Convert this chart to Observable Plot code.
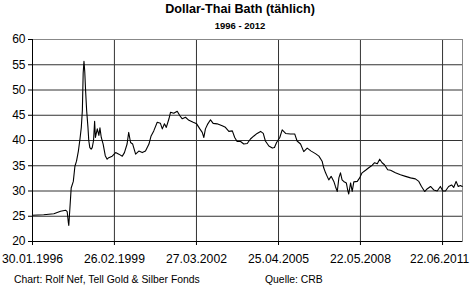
<!DOCTYPE html>
<html>
<head>
<meta charset="utf-8">
<script src="https://cdn.jsdelivr.net/npm/d3@7"></script>
<script src="https://cdn.jsdelivr.net/npm/@observablehq/plot@0.6"></script>
<style>
  html, body { margin: 0; padding: 0; background: #fff; }
  #wrap { width: 470px; height: 285px; overflow: hidden; font-family: "Liberation Sans", Arial, sans-serif; color: #000; }
  .title { font-size: 12.6px; font-weight: bold; text-align: center; height: 17px; line-height: 17px; padding-top: 1px; padding-left: 10px; }
  .subtitle { font-size: 9.5px; font-weight: bold; text-align: center; height: 12px; line-height: 12px; padding-top: 2px; padding-left: 10px; }
  .caption { position: relative; height: 12px; line-height: 12px; font-size: 10.4px; padding-top: 3px; }
  .caption span { position: absolute; top: 3px; }
  svg { display: block; overflow: visible; }
</style>
</head>
<body>
<div id="wrap">
  <div class="title">Dollar-Thai Bath (tählich)</div>
  <div class="subtitle">1996 - 2012</div>
  <div id="chart"></div>
  <div class="caption"><span style="left:14px">Chart: Rolf Nef, Tell Gold &amp; Silber Fonds</span><span style="left:265px">Quelle: CRB</span></div>
</div>
<script>
// Decimal-year positions of readings and USD/THB values
const years = [
  1996.08, 1996.50, 1996.88,
  1997.13, 1997.32, 1997.38, 1997.42, 1997.44, 1997.48, 1997.53, 1997.61, 1997.67, 1997.73, 1997.80, 1997.86, 1997.91, 1997.95, 1997.98,
  1998.01, 1998.04, 1998.07, 1998.11, 1998.16, 1998.19, 1998.23, 1998.28, 1998.32, 1998.37, 1998.41, 1998.44, 1998.51, 1998.57, 1998.61, 1998.66, 1998.73, 1998.81, 1998.88, 1998.94,
  1999.07, 1999.20, 1999.32, 1999.45, 1999.53, 1999.63, 1999.69, 1999.76, 1999.84, 1999.95,
  2000.07, 2000.20, 2000.32, 2000.45, 2000.53, 2000.63, 2000.76, 2000.88, 2000.95,
  2001.03, 2001.10, 2001.20, 2001.26, 2001.38, 2001.51, 2001.61, 2001.70, 2001.82, 2001.95,
  2002.11, 2002.24, 2002.36, 2002.45, 2002.51, 2002.57, 2002.66, 2002.76, 2002.86,
  2003.01, 2003.20, 2003.32, 2003.45, 2003.58, 2003.67, 2003.76, 2003.89,
  2004.01, 2004.14, 2004.26, 2004.39, 2004.51, 2004.64, 2004.74, 2004.82, 2004.95,
  2005.08, 2005.16, 2005.24, 2005.36, 2005.45, 2005.58, 2005.76, 2005.92,
  2006.01, 2006.14, 2006.26, 2006.39, 2006.54, 2006.70, 2006.83, 2006.95,
  2007.01, 2007.08, 2007.14, 2007.20, 2007.29, 2007.39, 2007.45, 2007.52, 2007.58, 2007.64, 2007.70, 2007.76, 2007.86, 2007.91, 2007.95,
  2008.02, 2008.08, 2008.14, 2008.27, 2008.36, 2008.45, 2008.58, 2008.70, 2008.83, 2008.92,
  2009.02, 2009.11, 2009.20, 2009.29, 2009.41, 2009.52, 2009.70, 2009.89,
  2010.08, 2010.27, 2010.45, 2010.58, 2010.68, 2010.80, 2010.89,
  2011.02, 2011.14, 2011.27, 2011.39, 2011.48, 2011.58, 2011.70, 2011.81, 2011.89, 2011.98,
  2012.06, 2012.14, 2012.21
];
const values = [
  25.2, 25.3, 25.5,
  26.0, 26.2, 25.9, 23.9, 23.2, 26.5, 30.6, 31.9, 34.9, 35.9, 37.9, 40.3, 42.6, 46.0, 53.3,
  55.7, 53.6, 50.0, 46.0, 42.6, 40.0, 38.6, 38.3, 38.6, 40.0, 43.8, 40.6, 42.3, 41.0, 42.5, 40.6, 39.3, 37.0, 36.3, 36.6,
  36.9, 37.6, 37.3, 36.9, 37.6, 39.3, 41.6, 39.6, 39.3, 37.3,
  37.9, 37.6, 37.9, 39.3, 40.9, 41.9, 43.6, 43.4, 42.3,
  43.3, 42.6, 44.3, 45.6, 45.4, 45.8, 44.9, 44.3, 44.6, 44.0,
  43.6, 43.3, 42.3, 41.6, 40.6, 42.3, 43.3, 44.1, 43.4,
  43.3, 42.9, 42.6, 41.8, 41.9, 40.6, 39.8, 39.8,
  39.3, 39.4, 40.3, 40.9, 41.4, 41.8, 41.4, 39.9, 38.9,
  38.5, 38.6, 39.6, 40.6, 42.1, 41.4, 41.3, 41.3,
  39.9, 39.3, 37.8, 38.5, 37.9, 37.4, 36.9, 35.9,
  34.6, 33.6, 32.9, 32.2, 32.9, 31.9, 30.9, 29.9, 32.6, 33.6, 32.2, 31.9, 31.6, 30.2, 29.4,
  31.6, 29.9, 31.8, 31.9, 32.6, 33.6, 34.1, 34.6, 35.1, 35.6,
  35.4, 36.3, 35.6, 35.2, 34.2, 34.1, 33.6, 33.2,
  32.9, 32.6, 32.4, 31.9, 30.9, 29.9, 30.4,
  30.9, 30.2, 30.0, 30.9, 30.0, 30.0, 30.9, 31.2, 30.7, 31.9,
  30.9, 31.1, 30.9
];
const xTickDates = ["1996-01-30", "1999-02-26", "2002-03-27", "2005-04-25", "2008-05-22", "2011-06-22"];
const yTicks = [20, 25, 30, 35, 40, 45, 50, 55, 60];
const xStart = "1996-01-30";
const xEndYear = 2012.22;

function fromDecimalYear(y) {
  const yr = Math.floor(y);
  const s = Date.UTC(yr, 0, 1), e = Date.UTC(yr + 1, 0, 1);
  return new Date(s + (y - yr) * (e - s));
}

const data = years.map((y, i) => ({date: fromDecimalYear(y), value: values[i]}));
const xTicks = xTickDates.map(d => new Date(d));
const x0 = new Date(xStart);
const x1 = fromDecimalYear(xEndYear);
const fmt = d3.utcFormat("%d.%m.%Y");

const chart = Plot.plot({
  width: 470,
  height: 239,
  marginLeft: 32,
  marginRight: 8,
  marginTop: 7,
  marginBottom: 30,
  style: {fontFamily: "'Liberation Sans', Arial, sans-serif", fontSize: "12px", color: "#000", background: "transparent"},
  x: {type: "utc", domain: [x0, x1]},
  y: {domain: [20, 60]},
  marks: [
    Plot.gridY(yTicks, {stroke: "#333", strokeOpacity: 1, strokeWidth: 1}),
    Plot.gridX(xTicks, {stroke: "#333", strokeOpacity: 1, strokeWidth: 1}),
    Plot.frame({stroke: "#888"}),
    Plot.ruleX([x0], {stroke: "#000"}),
    Plot.ruleY([20], {stroke: "#000"}),
    Plot.axisY(yTicks, {tickSize: 4, tickPadding: 3, fontSize: 12, label: null}),
    Plot.axisX(xTicks, {tickSize: 4, tickPadding: 9, text: null, label: null}),
    Plot.axisX(xTicks.slice(0, -1), {tickSize: 0, tickPadding: 13, fontSize: 12.2, label: null, tickFormat: fmt}),
    Plot.axisX(xTicks.slice(-1), {tickSize: 0, tickPadding: 13, fontSize: 12, dx: -3, label: null, tickFormat: fmt})
  ].concat([
    Plot.lineY(data, {x: "date", y: "value", stroke: "#000", strokeWidth: 1.1})
  ])
});
document.getElementById("chart").appendChild(chart);
</script>
</body>
</html>
